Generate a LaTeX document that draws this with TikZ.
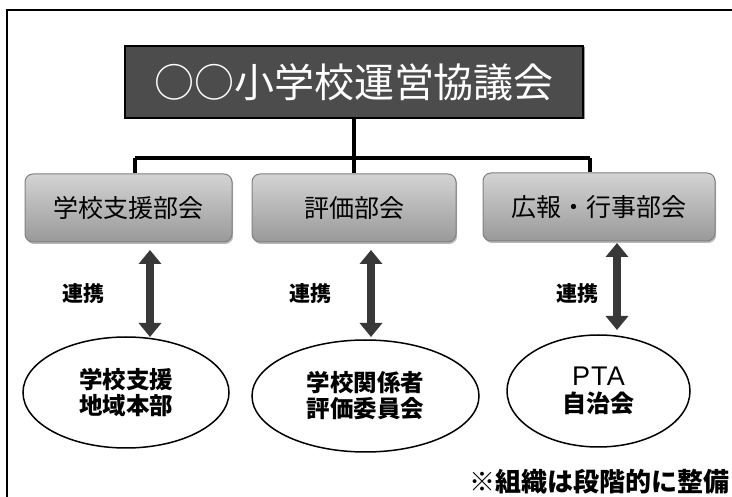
\documentclass[tikz,border=0pt]{standalone}
\usepackage{fontspec}
\setmainfont{Noto Sans CJK JP}
\newfontfamily\latinsans[LetterSpace=4]{Liberation Sans}
\usetikzlibrary{arrows.meta,shadows,shapes.geometric}
\begin{document}
\begin{tikzpicture}[x=1pt,y=-1pt,
  titlebox/.style={draw=black,line width=1.8pt,fill=black!70,text=white,
    minimum width=458pt,minimum height=72pt,inner sep=0pt,
    font=\fontsize{40}{44}\selectfont,
    drop shadow={shadow xshift=1.5pt,shadow yshift=-1.5pt,fill=black!80}},
  subbox/.style={draw=black!50,line width=1pt,rounded corners=8pt,
    top color=black!17,bottom color=black!40,
    minimum height=68pt,inner sep=0pt,
    font=\fontsize{25}{28}\selectfont,
    drop shadow={shadow xshift=1.2pt,shadow yshift=-2pt,fill=black!55}},
  oval/.style={ellipse,draw=black,line width=1.5pt,inner sep=0pt,
    align=center,font=\fontsize{23.5}{26}\selectfont\bfseries},
  tree/.style={draw=black,line width=3.4pt},
  link/.style={draw=black!78,line width=8pt,
    {Triangle[width=22pt,length=14pt]}-{Triangle[width=22pt,length=14pt]}},
  lbl/.style={font=\fontsize{21}{24}\selectfont\bfseries},
]
\useasboundingbox (0,0) rectangle (732,497);
% frame
\draw[line width=1.5pt] (7,497) -- (7,10) -- (732,10);

\node[titlebox] (title) at (354,82) {○○小学校運営協議会};

\node[subbox,minimum width=207pt] (b1) at (128.5,208) {学校支援部会};
\node[subbox,minimum width=204pt] (b2) at (354,208) {評価部会};
\node[subbox,minimum width=232pt] (b3) at (599,207) {広報・行事部会};

\coordinate (j1) at (135,158);
\coordinate (j3) at (590,158);
\draw[tree] (j1) -- (j3);
\draw[tree] (title.south) -- (title.south |- j1);
\draw[tree] (j1) -- (j1 |- b1.north);
\draw[tree] (b2.north |- j1) -- (b2.north);
\draw[tree] (j3) -- (j3 |- b3.north);

\node[oval,minimum width=206pt,minimum height=111pt] (e1) at (126,392.5) {学校支援\\地域本部};
\node[oval,minimum width=227pt,minimum height=112pt] (e2) at (365.5,396) {学校関係者\\評価委員会};
\node[oval,minimum width=183pt,minimum height=112pt] (e3) at (598.5,391) {{\latinsans\mdseries\fontsize{27}{29}\selectfont PTA}\\[1pt]{\fontsize{24}{26}\selectfont 自治会}};

\coordinate (a1t) at (150,250); \coordinate (a1b) at (150,337);
\coordinate (a2t) at (371,250); \coordinate (a2b) at (371,337);
\coordinate (a3t) at (617,243); \coordinate (a3b) at (617,330);
\draw[link] (a1t) -- (a1b);
\draw[link] (a2t) -- (a2b);
\draw[link] (a3t) -- (a3b);

\node[lbl] (l1) at (84,294) {連携};
\node[lbl] (l2) at (310,294) {連携};
\node[lbl] (l3) at (577,294) {連携};

\node[font=\fontsize{26}{30}\selectfont\bfseries,anchor=east] (note) at (733,482) {※組織は段階的に整備};
\end{tikzpicture}
\end{document}
